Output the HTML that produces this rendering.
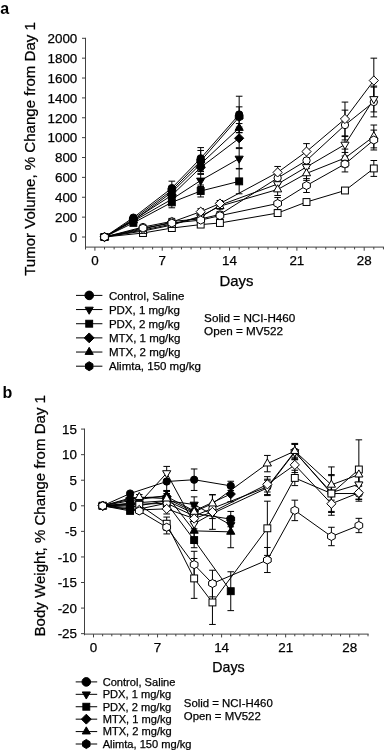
<!DOCTYPE html>
<html><head><meta charset="utf-8"><style>
html,body{margin:0;padding:0;background:#fff;width:385px;height:750px;overflow:hidden}
svg{display:block;will-change:transform}
text{font-family:"Liberation Sans", sans-serif}
</style></head><body>
<svg width="385" height="750" viewBox="0 0 385 750">
<g font-family='"Liberation Sans", sans-serif' fill="#000">
<text x="0.20" y="14.20" font-size="16" text-anchor="start" font-weight="700">a</text>
<text x="35.20" y="149.00" font-size="15.05" text-anchor="middle" font-weight="400" stroke="#000" stroke-width="0.25" transform="rotate(-90 35.20 149.00)">Tumor Volume, % Change from Day 1</text>
<line x1="85.50" y1="37.80" x2="85.50" y2="249.50" stroke="#404040" stroke-width="1"/>
<line x1="82.00" y1="237.00" x2="85.50" y2="237.00" stroke="#404040" stroke-width="1"/>
<text x="77.30" y="241.80" font-size="13.4" text-anchor="end" font-weight="400" stroke="#000" stroke-width="0.25">0</text>
<line x1="82.00" y1="217.13" x2="85.50" y2="217.13" stroke="#404040" stroke-width="1"/>
<text x="77.30" y="221.93" font-size="13.4" text-anchor="end" font-weight="400" stroke="#000" stroke-width="0.25">200</text>
<line x1="82.00" y1="197.26" x2="85.50" y2="197.26" stroke="#404040" stroke-width="1"/>
<text x="77.30" y="202.06" font-size="13.4" text-anchor="end" font-weight="400" stroke="#000" stroke-width="0.25">400</text>
<line x1="82.00" y1="177.39" x2="85.50" y2="177.39" stroke="#404040" stroke-width="1"/>
<text x="77.30" y="182.19" font-size="13.4" text-anchor="end" font-weight="400" stroke="#000" stroke-width="0.25">600</text>
<line x1="82.00" y1="157.52" x2="85.50" y2="157.52" stroke="#404040" stroke-width="1"/>
<text x="77.30" y="162.32" font-size="13.4" text-anchor="end" font-weight="400" stroke="#000" stroke-width="0.25">800</text>
<line x1="82.00" y1="137.65" x2="85.50" y2="137.65" stroke="#404040" stroke-width="1"/>
<text x="77.30" y="142.45" font-size="13.4" text-anchor="end" font-weight="400" stroke="#000" stroke-width="0.25">1000</text>
<line x1="82.00" y1="117.78" x2="85.50" y2="117.78" stroke="#404040" stroke-width="1"/>
<text x="77.30" y="122.58" font-size="13.4" text-anchor="end" font-weight="400" stroke="#000" stroke-width="0.25">1200</text>
<line x1="82.00" y1="97.91" x2="85.50" y2="97.91" stroke="#404040" stroke-width="1"/>
<text x="77.30" y="102.71" font-size="13.4" text-anchor="end" font-weight="400" stroke="#000" stroke-width="0.25">1400</text>
<line x1="82.00" y1="78.04" x2="85.50" y2="78.04" stroke="#404040" stroke-width="1"/>
<text x="77.30" y="82.84" font-size="13.4" text-anchor="end" font-weight="400" stroke="#000" stroke-width="0.25">1600</text>
<line x1="82.00" y1="58.17" x2="85.50" y2="58.17" stroke="#404040" stroke-width="1"/>
<text x="77.30" y="62.97" font-size="13.4" text-anchor="end" font-weight="400" stroke="#000" stroke-width="0.25">1800</text>
<line x1="82.00" y1="38.30" x2="85.50" y2="38.30" stroke="#404040" stroke-width="1"/>
<text x="77.30" y="43.10" font-size="13.4" text-anchor="end" font-weight="400" stroke="#000" stroke-width="0.25">2000</text>
<line x1="85.00" y1="247.10" x2="383.90" y2="247.10" stroke="#404040" stroke-width="1"/>
<line x1="94.90" y1="247.10" x2="94.90" y2="250.70" stroke="#404040" stroke-width="1"/>
<line x1="104.52" y1="247.10" x2="104.52" y2="249.40" stroke="#404040" stroke-width="1"/>
<line x1="114.14" y1="247.10" x2="114.14" y2="249.40" stroke="#404040" stroke-width="1"/>
<line x1="123.75" y1="247.10" x2="123.75" y2="249.40" stroke="#404040" stroke-width="1"/>
<line x1="133.37" y1="247.10" x2="133.37" y2="249.40" stroke="#404040" stroke-width="1"/>
<line x1="142.99" y1="247.10" x2="142.99" y2="249.40" stroke="#404040" stroke-width="1"/>
<line x1="152.61" y1="247.10" x2="152.61" y2="249.40" stroke="#404040" stroke-width="1"/>
<line x1="162.23" y1="247.10" x2="162.23" y2="250.70" stroke="#404040" stroke-width="1"/>
<line x1="171.84" y1="247.10" x2="171.84" y2="249.40" stroke="#404040" stroke-width="1"/>
<line x1="181.46" y1="247.10" x2="181.46" y2="249.40" stroke="#404040" stroke-width="1"/>
<line x1="191.08" y1="247.10" x2="191.08" y2="249.40" stroke="#404040" stroke-width="1"/>
<line x1="200.70" y1="247.10" x2="200.70" y2="249.40" stroke="#404040" stroke-width="1"/>
<line x1="210.32" y1="247.10" x2="210.32" y2="249.40" stroke="#404040" stroke-width="1"/>
<line x1="219.93" y1="247.10" x2="219.93" y2="249.40" stroke="#404040" stroke-width="1"/>
<line x1="229.55" y1="247.10" x2="229.55" y2="250.70" stroke="#404040" stroke-width="1"/>
<line x1="239.17" y1="247.10" x2="239.17" y2="249.40" stroke="#404040" stroke-width="1"/>
<line x1="248.79" y1="247.10" x2="248.79" y2="249.40" stroke="#404040" stroke-width="1"/>
<line x1="258.41" y1="247.10" x2="258.41" y2="249.40" stroke="#404040" stroke-width="1"/>
<line x1="268.02" y1="247.10" x2="268.02" y2="249.40" stroke="#404040" stroke-width="1"/>
<line x1="277.64" y1="247.10" x2="277.64" y2="249.40" stroke="#404040" stroke-width="1"/>
<line x1="287.26" y1="247.10" x2="287.26" y2="249.40" stroke="#404040" stroke-width="1"/>
<line x1="296.88" y1="247.10" x2="296.88" y2="250.70" stroke="#404040" stroke-width="1"/>
<line x1="306.50" y1="247.10" x2="306.50" y2="249.40" stroke="#404040" stroke-width="1"/>
<line x1="316.11" y1="247.10" x2="316.11" y2="249.40" stroke="#404040" stroke-width="1"/>
<line x1="325.73" y1="247.10" x2="325.73" y2="249.40" stroke="#404040" stroke-width="1"/>
<line x1="335.35" y1="247.10" x2="335.35" y2="249.40" stroke="#404040" stroke-width="1"/>
<line x1="344.97" y1="247.10" x2="344.97" y2="249.40" stroke="#404040" stroke-width="1"/>
<line x1="354.59" y1="247.10" x2="354.59" y2="249.40" stroke="#404040" stroke-width="1"/>
<line x1="364.20" y1="247.10" x2="364.20" y2="250.70" stroke="#404040" stroke-width="1"/>
<line x1="373.82" y1="247.10" x2="373.82" y2="249.40" stroke="#404040" stroke-width="1"/>
<line x1="383.44" y1="247.10" x2="383.44" y2="249.40" stroke="#404040" stroke-width="1"/>
<text x="94.90" y="265.20" font-size="13.4" text-anchor="middle" font-weight="400" stroke="#000" stroke-width="0.25">0</text>
<text x="162.23" y="265.20" font-size="13.4" text-anchor="middle" font-weight="400" stroke="#000" stroke-width="0.25">7</text>
<text x="229.55" y="265.20" font-size="13.4" text-anchor="middle" font-weight="400" stroke="#000" stroke-width="0.25">14</text>
<text x="296.88" y="265.20" font-size="13.4" text-anchor="middle" font-weight="400" stroke="#000" stroke-width="0.25">21</text>
<text x="364.20" y="265.20" font-size="13.4" text-anchor="middle" font-weight="400" stroke="#000" stroke-width="0.25">28</text>
<text x="219.55" y="285.80" font-size="14.9" text-anchor="start" font-weight="400" stroke="#000" stroke-width="0.25">Days</text>
<line x1="133.37" y1="216.14" x2="133.37" y2="219.12" stroke="#000" stroke-width="1"/>
<line x1="130.07" y1="216.14" x2="136.67" y2="216.14" stroke="#000" stroke-width="1"/>
<line x1="130.07" y1="219.12" x2="136.67" y2="219.12" stroke="#000" stroke-width="1"/>
<line x1="171.84" y1="181.17" x2="171.84" y2="195.07" stroke="#000" stroke-width="1"/>
<line x1="168.54" y1="181.17" x2="175.14" y2="181.17" stroke="#000" stroke-width="1"/>
<line x1="168.54" y1="195.07" x2="175.14" y2="195.07" stroke="#000" stroke-width="1"/>
<line x1="200.70" y1="147.59" x2="200.70" y2="169.04" stroke="#000" stroke-width="1"/>
<line x1="197.40" y1="147.59" x2="204.00" y2="147.59" stroke="#000" stroke-width="1"/>
<line x1="197.40" y1="169.04" x2="204.00" y2="169.04" stroke="#000" stroke-width="1"/>
<line x1="239.17" y1="96.22" x2="239.17" y2="132.78" stroke="#000" stroke-width="1"/>
<line x1="235.87" y1="96.22" x2="242.47" y2="96.22" stroke="#000" stroke-width="1"/>
<line x1="235.87" y1="132.78" x2="242.47" y2="132.78" stroke="#000" stroke-width="1"/>
<polyline points="104.52,237.00 133.37,217.63 171.84,188.12 200.70,158.31 239.17,114.50" fill="none" stroke="#000" stroke-width="1"/>
<line x1="133.37" y1="219.61" x2="133.37" y2="222.59" stroke="#000" stroke-width="1"/>
<line x1="130.07" y1="219.61" x2="136.67" y2="219.61" stroke="#000" stroke-width="1"/>
<line x1="130.07" y1="222.59" x2="136.67" y2="222.59" stroke="#000" stroke-width="1"/>
<line x1="171.84" y1="195.27" x2="171.84" y2="203.22" stroke="#000" stroke-width="1"/>
<line x1="168.54" y1="195.27" x2="175.14" y2="195.27" stroke="#000" stroke-width="1"/>
<line x1="168.54" y1="203.22" x2="175.14" y2="203.22" stroke="#000" stroke-width="1"/>
<line x1="200.70" y1="174.41" x2="200.70" y2="186.53" stroke="#000" stroke-width="1"/>
<line x1="197.40" y1="174.41" x2="204.00" y2="174.41" stroke="#000" stroke-width="1"/>
<line x1="197.40" y1="186.53" x2="204.00" y2="186.53" stroke="#000" stroke-width="1"/>
<line x1="239.17" y1="148.58" x2="239.17" y2="168.45" stroke="#000" stroke-width="1"/>
<line x1="235.87" y1="148.58" x2="242.47" y2="148.58" stroke="#000" stroke-width="1"/>
<line x1="235.87" y1="168.45" x2="242.47" y2="168.45" stroke="#000" stroke-width="1"/>
<polyline points="104.52,237.00 133.37,221.10 171.84,199.25 200.70,180.47 239.17,158.51" fill="none" stroke="#000" stroke-width="1"/>
<line x1="133.37" y1="221.40" x2="133.37" y2="224.38" stroke="#000" stroke-width="1"/>
<line x1="130.07" y1="221.40" x2="136.67" y2="221.40" stroke="#000" stroke-width="1"/>
<line x1="130.07" y1="224.38" x2="136.67" y2="224.38" stroke="#000" stroke-width="1"/>
<line x1="171.84" y1="196.86" x2="171.84" y2="207.79" stroke="#000" stroke-width="1"/>
<line x1="168.54" y1="196.86" x2="175.14" y2="196.86" stroke="#000" stroke-width="1"/>
<line x1="168.54" y1="207.79" x2="175.14" y2="207.79" stroke="#000" stroke-width="1"/>
<line x1="200.70" y1="185.04" x2="200.70" y2="196.96" stroke="#000" stroke-width="1"/>
<line x1="197.40" y1="185.04" x2="204.00" y2="185.04" stroke="#000" stroke-width="1"/>
<line x1="197.40" y1="196.96" x2="204.00" y2="196.96" stroke="#000" stroke-width="1"/>
<line x1="239.17" y1="168.95" x2="239.17" y2="193.78" stroke="#000" stroke-width="1"/>
<line x1="235.87" y1="168.95" x2="242.47" y2="168.95" stroke="#000" stroke-width="1"/>
<line x1="235.87" y1="193.78" x2="242.47" y2="193.78" stroke="#000" stroke-width="1"/>
<polyline points="104.52,237.00 133.37,222.89 171.84,202.33 200.70,191.00 239.17,181.36" fill="none" stroke="#000" stroke-width="1"/>
<line x1="133.37" y1="218.62" x2="133.37" y2="221.60" stroke="#000" stroke-width="1"/>
<line x1="130.07" y1="218.62" x2="136.67" y2="218.62" stroke="#000" stroke-width="1"/>
<line x1="130.07" y1="221.60" x2="136.67" y2="221.60" stroke="#000" stroke-width="1"/>
<line x1="171.84" y1="191.30" x2="171.84" y2="199.25" stroke="#000" stroke-width="1"/>
<line x1="168.54" y1="191.30" x2="175.14" y2="191.30" stroke="#000" stroke-width="1"/>
<line x1="168.54" y1="199.25" x2="175.14" y2="199.25" stroke="#000" stroke-width="1"/>
<line x1="200.70" y1="161.49" x2="200.70" y2="173.42" stroke="#000" stroke-width="1"/>
<line x1="197.40" y1="161.49" x2="204.00" y2="161.49" stroke="#000" stroke-width="1"/>
<line x1="197.40" y1="173.42" x2="204.00" y2="173.42" stroke="#000" stroke-width="1"/>
<line x1="239.17" y1="128.81" x2="239.17" y2="147.68" stroke="#000" stroke-width="1"/>
<line x1="235.87" y1="128.81" x2="242.47" y2="128.81" stroke="#000" stroke-width="1"/>
<line x1="235.87" y1="147.68" x2="242.47" y2="147.68" stroke="#000" stroke-width="1"/>
<polyline points="104.52,237.00 133.37,220.11 171.84,195.27 200.70,167.45 239.17,138.25" fill="none" stroke="#000" stroke-width="1"/>
<line x1="133.37" y1="219.12" x2="133.37" y2="222.10" stroke="#000" stroke-width="1"/>
<line x1="130.07" y1="219.12" x2="136.67" y2="219.12" stroke="#000" stroke-width="1"/>
<line x1="130.07" y1="222.10" x2="136.67" y2="222.10" stroke="#000" stroke-width="1"/>
<line x1="171.84" y1="188.32" x2="171.84" y2="196.27" stroke="#000" stroke-width="1"/>
<line x1="168.54" y1="188.32" x2="175.14" y2="188.32" stroke="#000" stroke-width="1"/>
<line x1="168.54" y1="196.27" x2="175.14" y2="196.27" stroke="#000" stroke-width="1"/>
<line x1="200.70" y1="158.02" x2="200.70" y2="169.94" stroke="#000" stroke-width="1"/>
<line x1="197.40" y1="158.02" x2="204.00" y2="158.02" stroke="#000" stroke-width="1"/>
<line x1="197.40" y1="169.94" x2="204.00" y2="169.94" stroke="#000" stroke-width="1"/>
<line x1="239.17" y1="123.54" x2="239.17" y2="132.48" stroke="#000" stroke-width="1"/>
<line x1="235.87" y1="123.54" x2="242.47" y2="123.54" stroke="#000" stroke-width="1"/>
<line x1="235.87" y1="132.48" x2="242.47" y2="132.48" stroke="#000" stroke-width="1"/>
<polyline points="104.52,237.00 133.37,220.61 171.84,192.29 200.70,163.98 239.17,128.01" fill="none" stroke="#000" stroke-width="1"/>
<line x1="133.37" y1="217.63" x2="133.37" y2="220.61" stroke="#000" stroke-width="1"/>
<line x1="130.07" y1="217.63" x2="136.67" y2="217.63" stroke="#000" stroke-width="1"/>
<line x1="130.07" y1="220.61" x2="136.67" y2="220.61" stroke="#000" stroke-width="1"/>
<line x1="171.84" y1="186.33" x2="171.84" y2="194.28" stroke="#000" stroke-width="1"/>
<line x1="168.54" y1="186.33" x2="175.14" y2="186.33" stroke="#000" stroke-width="1"/>
<line x1="168.54" y1="194.28" x2="175.14" y2="194.28" stroke="#000" stroke-width="1"/>
<line x1="200.70" y1="150.47" x2="200.70" y2="171.53" stroke="#000" stroke-width="1"/>
<line x1="197.40" y1="150.47" x2="204.00" y2="150.47" stroke="#000" stroke-width="1"/>
<line x1="197.40" y1="171.53" x2="204.00" y2="171.53" stroke="#000" stroke-width="1"/>
<line x1="239.17" y1="106.85" x2="239.17" y2="127.12" stroke="#000" stroke-width="1"/>
<line x1="235.87" y1="106.85" x2="242.47" y2="106.85" stroke="#000" stroke-width="1"/>
<line x1="235.87" y1="127.12" x2="242.47" y2="127.12" stroke="#000" stroke-width="1"/>
<polyline points="104.52,237.00 133.37,219.12 171.84,190.31 200.70,161.00 239.17,116.99" fill="none" stroke="#000" stroke-width="1"/>
<line x1="142.99" y1="225.08" x2="142.99" y2="229.05" stroke="#000" stroke-width="1"/>
<line x1="139.69" y1="225.08" x2="146.29" y2="225.08" stroke="#000" stroke-width="1"/>
<line x1="139.69" y1="229.05" x2="146.29" y2="229.05" stroke="#000" stroke-width="1"/>
<line x1="171.84" y1="218.42" x2="171.84" y2="224.38" stroke="#000" stroke-width="1"/>
<line x1="168.54" y1="218.42" x2="175.14" y2="218.42" stroke="#000" stroke-width="1"/>
<line x1="168.54" y1="224.38" x2="175.14" y2="224.38" stroke="#000" stroke-width="1"/>
<line x1="200.70" y1="215.94" x2="200.70" y2="221.90" stroke="#000" stroke-width="1"/>
<line x1="197.40" y1="215.94" x2="204.00" y2="215.94" stroke="#000" stroke-width="1"/>
<line x1="197.40" y1="221.90" x2="204.00" y2="221.90" stroke="#000" stroke-width="1"/>
<line x1="219.93" y1="211.47" x2="219.93" y2="217.43" stroke="#000" stroke-width="1"/>
<line x1="216.63" y1="211.47" x2="223.23" y2="211.47" stroke="#000" stroke-width="1"/>
<line x1="216.63" y1="217.43" x2="223.23" y2="217.43" stroke="#000" stroke-width="1"/>
<line x1="277.64" y1="172.03" x2="277.64" y2="183.95" stroke="#000" stroke-width="1"/>
<line x1="274.34" y1="172.03" x2="280.94" y2="172.03" stroke="#000" stroke-width="1"/>
<line x1="274.34" y1="183.95" x2="280.94" y2="183.95" stroke="#000" stroke-width="1"/>
<line x1="306.50" y1="152.55" x2="306.50" y2="168.45" stroke="#000" stroke-width="1"/>
<line x1="303.20" y1="152.55" x2="309.80" y2="152.55" stroke="#000" stroke-width="1"/>
<line x1="303.20" y1="168.45" x2="309.80" y2="168.45" stroke="#000" stroke-width="1"/>
<line x1="344.97" y1="110.13" x2="344.97" y2="139.94" stroke="#000" stroke-width="1"/>
<line x1="341.67" y1="110.13" x2="348.27" y2="110.13" stroke="#000" stroke-width="1"/>
<line x1="341.67" y1="139.94" x2="348.27" y2="139.94" stroke="#000" stroke-width="1"/>
<line x1="373.82" y1="87.08" x2="373.82" y2="116.89" stroke="#000" stroke-width="1"/>
<line x1="370.52" y1="87.08" x2="377.12" y2="87.08" stroke="#000" stroke-width="1"/>
<line x1="370.52" y1="116.89" x2="377.12" y2="116.89" stroke="#000" stroke-width="1"/>
<polyline points="104.52,237.00 142.99,227.06 171.84,221.40 200.70,218.92 219.93,214.45 277.64,177.99 306.50,160.50 344.97,125.03 373.82,101.98" fill="none" stroke="#000" stroke-width="1"/>
<line x1="142.99" y1="228.06" x2="142.99" y2="232.03" stroke="#000" stroke-width="1"/>
<line x1="139.69" y1="228.06" x2="146.29" y2="228.06" stroke="#000" stroke-width="1"/>
<line x1="139.69" y1="232.03" x2="146.29" y2="232.03" stroke="#000" stroke-width="1"/>
<line x1="171.84" y1="221.10" x2="171.84" y2="227.06" stroke="#000" stroke-width="1"/>
<line x1="168.54" y1="221.10" x2="175.14" y2="221.10" stroke="#000" stroke-width="1"/>
<line x1="168.54" y1="227.06" x2="175.14" y2="227.06" stroke="#000" stroke-width="1"/>
<line x1="200.70" y1="214.15" x2="200.70" y2="220.11" stroke="#000" stroke-width="1"/>
<line x1="197.40" y1="214.15" x2="204.00" y2="214.15" stroke="#000" stroke-width="1"/>
<line x1="197.40" y1="220.11" x2="204.00" y2="220.11" stroke="#000" stroke-width="1"/>
<line x1="219.93" y1="202.23" x2="219.93" y2="208.19" stroke="#000" stroke-width="1"/>
<line x1="216.63" y1="202.23" x2="223.23" y2="202.23" stroke="#000" stroke-width="1"/>
<line x1="216.63" y1="208.19" x2="223.23" y2="208.19" stroke="#000" stroke-width="1"/>
<line x1="277.64" y1="178.09" x2="277.64" y2="190.01" stroke="#000" stroke-width="1"/>
<line x1="274.34" y1="178.09" x2="280.94" y2="178.09" stroke="#000" stroke-width="1"/>
<line x1="274.34" y1="190.01" x2="280.94" y2="190.01" stroke="#000" stroke-width="1"/>
<line x1="306.50" y1="160.00" x2="306.50" y2="173.91" stroke="#000" stroke-width="1"/>
<line x1="303.20" y1="160.00" x2="309.80" y2="160.00" stroke="#000" stroke-width="1"/>
<line x1="303.20" y1="173.91" x2="309.80" y2="173.91" stroke="#000" stroke-width="1"/>
<line x1="344.97" y1="136.56" x2="344.97" y2="152.45" stroke="#000" stroke-width="1"/>
<line x1="341.67" y1="136.56" x2="348.27" y2="136.56" stroke="#000" stroke-width="1"/>
<line x1="341.67" y1="152.45" x2="348.27" y2="152.45" stroke="#000" stroke-width="1"/>
<line x1="373.82" y1="86.09" x2="373.82" y2="111.92" stroke="#000" stroke-width="1"/>
<line x1="370.52" y1="86.09" x2="377.12" y2="86.09" stroke="#000" stroke-width="1"/>
<line x1="370.52" y1="111.92" x2="377.12" y2="111.92" stroke="#000" stroke-width="1"/>
<polyline points="104.52,237.00 142.99,230.05 171.84,224.08 200.70,217.13 219.93,205.21 277.64,184.05 306.50,166.96 344.97,144.51 373.82,99.00" fill="none" stroke="#000" stroke-width="1"/>
<line x1="142.99" y1="232.03" x2="142.99" y2="234.02" stroke="#000" stroke-width="1"/>
<line x1="139.69" y1="232.03" x2="146.29" y2="232.03" stroke="#000" stroke-width="1"/>
<line x1="139.69" y1="234.02" x2="146.29" y2="234.02" stroke="#000" stroke-width="1"/>
<line x1="171.84" y1="226.07" x2="171.84" y2="230.05" stroke="#000" stroke-width="1"/>
<line x1="168.54" y1="226.07" x2="175.14" y2="226.07" stroke="#000" stroke-width="1"/>
<line x1="168.54" y1="230.05" x2="175.14" y2="230.05" stroke="#000" stroke-width="1"/>
<line x1="200.70" y1="222.59" x2="200.70" y2="226.57" stroke="#000" stroke-width="1"/>
<line x1="197.40" y1="222.59" x2="204.00" y2="222.59" stroke="#000" stroke-width="1"/>
<line x1="197.40" y1="226.57" x2="204.00" y2="226.57" stroke="#000" stroke-width="1"/>
<line x1="219.93" y1="221.00" x2="219.93" y2="224.98" stroke="#000" stroke-width="1"/>
<line x1="216.63" y1="221.00" x2="223.23" y2="221.00" stroke="#000" stroke-width="1"/>
<line x1="216.63" y1="224.98" x2="223.23" y2="224.98" stroke="#000" stroke-width="1"/>
<line x1="277.64" y1="210.08" x2="277.64" y2="216.04" stroke="#000" stroke-width="1"/>
<line x1="274.34" y1="210.08" x2="280.94" y2="210.08" stroke="#000" stroke-width="1"/>
<line x1="274.34" y1="216.04" x2="280.94" y2="216.04" stroke="#000" stroke-width="1"/>
<line x1="306.50" y1="199.05" x2="306.50" y2="205.01" stroke="#000" stroke-width="1"/>
<line x1="303.20" y1="199.05" x2="309.80" y2="199.05" stroke="#000" stroke-width="1"/>
<line x1="303.20" y1="205.01" x2="309.80" y2="205.01" stroke="#000" stroke-width="1"/>
<line x1="344.97" y1="187.52" x2="344.97" y2="193.48" stroke="#000" stroke-width="1"/>
<line x1="341.67" y1="187.52" x2="348.27" y2="187.52" stroke="#000" stroke-width="1"/>
<line x1="341.67" y1="193.48" x2="348.27" y2="193.48" stroke="#000" stroke-width="1"/>
<line x1="373.82" y1="160.50" x2="373.82" y2="176.40" stroke="#000" stroke-width="1"/>
<line x1="370.52" y1="160.50" x2="377.12" y2="160.50" stroke="#000" stroke-width="1"/>
<line x1="370.52" y1="176.40" x2="377.12" y2="176.40" stroke="#000" stroke-width="1"/>
<polyline points="104.52,237.00 142.99,233.03 171.84,228.06 200.70,224.58 219.93,222.99 277.64,213.06 306.50,202.03 344.97,190.50 373.82,168.45" fill="none" stroke="#000" stroke-width="1"/>
<line x1="142.99" y1="227.06" x2="142.99" y2="231.04" stroke="#000" stroke-width="1"/>
<line x1="139.69" y1="227.06" x2="146.29" y2="227.06" stroke="#000" stroke-width="1"/>
<line x1="139.69" y1="231.04" x2="146.29" y2="231.04" stroke="#000" stroke-width="1"/>
<line x1="171.84" y1="219.12" x2="171.84" y2="225.08" stroke="#000" stroke-width="1"/>
<line x1="168.54" y1="219.12" x2="175.14" y2="219.12" stroke="#000" stroke-width="1"/>
<line x1="168.54" y1="225.08" x2="175.14" y2="225.08" stroke="#000" stroke-width="1"/>
<line x1="200.70" y1="208.69" x2="200.70" y2="214.65" stroke="#000" stroke-width="1"/>
<line x1="197.40" y1="208.69" x2="204.00" y2="208.69" stroke="#000" stroke-width="1"/>
<line x1="197.40" y1="214.65" x2="204.00" y2="214.65" stroke="#000" stroke-width="1"/>
<line x1="219.93" y1="200.54" x2="219.93" y2="206.50" stroke="#000" stroke-width="1"/>
<line x1="216.63" y1="200.54" x2="223.23" y2="200.54" stroke="#000" stroke-width="1"/>
<line x1="216.63" y1="206.50" x2="223.23" y2="206.50" stroke="#000" stroke-width="1"/>
<line x1="277.64" y1="166.46" x2="277.64" y2="178.38" stroke="#000" stroke-width="1"/>
<line x1="274.34" y1="166.46" x2="280.94" y2="166.46" stroke="#000" stroke-width="1"/>
<line x1="274.34" y1="178.38" x2="280.94" y2="178.38" stroke="#000" stroke-width="1"/>
<line x1="306.50" y1="143.61" x2="306.50" y2="159.51" stroke="#000" stroke-width="1"/>
<line x1="303.20" y1="143.61" x2="309.80" y2="143.61" stroke="#000" stroke-width="1"/>
<line x1="303.20" y1="159.51" x2="309.80" y2="159.51" stroke="#000" stroke-width="1"/>
<line x1="344.97" y1="102.08" x2="344.97" y2="135.86" stroke="#000" stroke-width="1"/>
<line x1="341.67" y1="102.08" x2="348.27" y2="102.08" stroke="#000" stroke-width="1"/>
<line x1="341.67" y1="135.86" x2="348.27" y2="135.86" stroke="#000" stroke-width="1"/>
<line x1="373.82" y1="58.17" x2="373.82" y2="102.88" stroke="#000" stroke-width="1"/>
<line x1="370.52" y1="58.17" x2="377.12" y2="58.17" stroke="#000" stroke-width="1"/>
<line x1="370.52" y1="102.88" x2="377.12" y2="102.88" stroke="#000" stroke-width="1"/>
<polyline points="104.52,237.00 142.99,229.05 171.84,222.10 200.70,211.67 219.93,203.52 277.64,172.42 306.50,151.56 344.97,118.97 373.82,80.52" fill="none" stroke="#000" stroke-width="1"/>
<line x1="142.99" y1="229.05" x2="142.99" y2="233.03" stroke="#000" stroke-width="1"/>
<line x1="139.69" y1="229.05" x2="146.29" y2="229.05" stroke="#000" stroke-width="1"/>
<line x1="139.69" y1="233.03" x2="146.29" y2="233.03" stroke="#000" stroke-width="1"/>
<line x1="171.84" y1="222.10" x2="171.84" y2="228.06" stroke="#000" stroke-width="1"/>
<line x1="168.54" y1="222.10" x2="175.14" y2="222.10" stroke="#000" stroke-width="1"/>
<line x1="168.54" y1="228.06" x2="175.14" y2="228.06" stroke="#000" stroke-width="1"/>
<line x1="200.70" y1="213.16" x2="200.70" y2="219.12" stroke="#000" stroke-width="1"/>
<line x1="197.40" y1="213.16" x2="204.00" y2="213.16" stroke="#000" stroke-width="1"/>
<line x1="197.40" y1="219.12" x2="204.00" y2="219.12" stroke="#000" stroke-width="1"/>
<line x1="219.93" y1="203.22" x2="219.93" y2="209.18" stroke="#000" stroke-width="1"/>
<line x1="216.63" y1="203.22" x2="223.23" y2="203.22" stroke="#000" stroke-width="1"/>
<line x1="216.63" y1="209.18" x2="223.23" y2="209.18" stroke="#000" stroke-width="1"/>
<line x1="277.64" y1="183.55" x2="277.64" y2="195.47" stroke="#000" stroke-width="1"/>
<line x1="274.34" y1="183.55" x2="280.94" y2="183.55" stroke="#000" stroke-width="1"/>
<line x1="274.34" y1="195.47" x2="280.94" y2="195.47" stroke="#000" stroke-width="1"/>
<line x1="306.50" y1="166.46" x2="306.50" y2="180.37" stroke="#000" stroke-width="1"/>
<line x1="303.20" y1="166.46" x2="309.80" y2="166.46" stroke="#000" stroke-width="1"/>
<line x1="303.20" y1="180.37" x2="309.80" y2="180.37" stroke="#000" stroke-width="1"/>
<line x1="344.97" y1="149.08" x2="344.97" y2="166.96" stroke="#000" stroke-width="1"/>
<line x1="341.67" y1="149.08" x2="348.27" y2="149.08" stroke="#000" stroke-width="1"/>
<line x1="341.67" y1="166.96" x2="348.27" y2="166.96" stroke="#000" stroke-width="1"/>
<line x1="373.82" y1="125.03" x2="373.82" y2="147.88" stroke="#000" stroke-width="1"/>
<line x1="370.52" y1="125.03" x2="377.12" y2="125.03" stroke="#000" stroke-width="1"/>
<line x1="370.52" y1="147.88" x2="377.12" y2="147.88" stroke="#000" stroke-width="1"/>
<polyline points="104.52,237.00 142.99,231.04 171.84,225.08 200.70,216.14 219.93,206.20 277.64,189.51 306.50,173.42 344.97,158.02 373.82,136.46" fill="none" stroke="#000" stroke-width="1"/>
<line x1="142.99" y1="226.07" x2="142.99" y2="230.05" stroke="#000" stroke-width="1"/>
<line x1="139.69" y1="226.07" x2="146.29" y2="226.07" stroke="#000" stroke-width="1"/>
<line x1="139.69" y1="230.05" x2="146.29" y2="230.05" stroke="#000" stroke-width="1"/>
<line x1="171.84" y1="220.11" x2="171.84" y2="226.07" stroke="#000" stroke-width="1"/>
<line x1="168.54" y1="220.11" x2="175.14" y2="220.11" stroke="#000" stroke-width="1"/>
<line x1="168.54" y1="226.07" x2="175.14" y2="226.07" stroke="#000" stroke-width="1"/>
<line x1="200.70" y1="217.13" x2="200.70" y2="223.09" stroke="#000" stroke-width="1"/>
<line x1="197.40" y1="217.13" x2="204.00" y2="217.13" stroke="#000" stroke-width="1"/>
<line x1="197.40" y1="223.09" x2="204.00" y2="223.09" stroke="#000" stroke-width="1"/>
<line x1="219.93" y1="212.66" x2="219.93" y2="218.62" stroke="#000" stroke-width="1"/>
<line x1="216.63" y1="212.66" x2="223.23" y2="212.66" stroke="#000" stroke-width="1"/>
<line x1="216.63" y1="218.62" x2="223.23" y2="218.62" stroke="#000" stroke-width="1"/>
<line x1="277.64" y1="197.56" x2="277.64" y2="209.48" stroke="#000" stroke-width="1"/>
<line x1="274.34" y1="197.56" x2="280.94" y2="197.56" stroke="#000" stroke-width="1"/>
<line x1="274.34" y1="209.48" x2="280.94" y2="209.48" stroke="#000" stroke-width="1"/>
<line x1="306.50" y1="178.58" x2="306.50" y2="192.49" stroke="#000" stroke-width="1"/>
<line x1="303.20" y1="178.58" x2="309.80" y2="178.58" stroke="#000" stroke-width="1"/>
<line x1="303.20" y1="192.49" x2="309.80" y2="192.49" stroke="#000" stroke-width="1"/>
<line x1="344.97" y1="156.03" x2="344.97" y2="171.93" stroke="#000" stroke-width="1"/>
<line x1="341.67" y1="156.03" x2="348.27" y2="156.03" stroke="#000" stroke-width="1"/>
<line x1="341.67" y1="171.93" x2="348.27" y2="171.93" stroke="#000" stroke-width="1"/>
<line x1="373.82" y1="130.10" x2="373.82" y2="149.97" stroke="#000" stroke-width="1"/>
<line x1="370.52" y1="130.10" x2="377.12" y2="130.10" stroke="#000" stroke-width="1"/>
<line x1="370.52" y1="149.97" x2="377.12" y2="149.97" stroke="#000" stroke-width="1"/>
<polyline points="104.52,237.00 142.99,228.06 171.84,223.09 200.70,220.11 219.93,215.64 277.64,203.52 306.50,185.54 344.97,163.98 373.82,140.03" fill="none" stroke="#000" stroke-width="1"/>
<circle cx="104.52" cy="237.00" r="3.65" fill="#000" stroke="#000" stroke-width="1.0"/>
<circle cx="133.37" cy="217.63" r="3.65" fill="#000" stroke="#000" stroke-width="1.0"/>
<circle cx="171.84" cy="188.12" r="3.65" fill="#000" stroke="#000" stroke-width="1.0"/>
<circle cx="200.70" cy="158.31" r="3.65" fill="#000" stroke="#000" stroke-width="1.0"/>
<circle cx="239.17" cy="114.50" r="3.65" fill="#000" stroke="#000" stroke-width="1.0"/>
<polygon points="104.52,241.72 108.60,234.64 100.43,234.64" fill="#000" stroke="#000" stroke-width="1.0"/>
<polygon points="133.37,225.82 137.46,218.75 129.29,218.75" fill="#000" stroke="#000" stroke-width="1.0"/>
<polygon points="171.84,203.96 175.93,196.89 167.76,196.89" fill="#000" stroke="#000" stroke-width="1.0"/>
<polygon points="200.70,185.19 204.78,178.11 196.61,178.11" fill="#000" stroke="#000" stroke-width="1.0"/>
<polygon points="239.17,163.23 243.26,156.16 235.09,156.16" fill="#000" stroke="#000" stroke-width="1.0"/>
<rect x="101.08" y="233.56" width="6.88" height="6.88" fill="#000" stroke="#000" stroke-width="1.0"/>
<rect x="129.93" y="219.45" width="6.88" height="6.88" fill="#000" stroke="#000" stroke-width="1.0"/>
<rect x="168.40" y="198.89" width="6.88" height="6.88" fill="#000" stroke="#000" stroke-width="1.0"/>
<rect x="197.26" y="187.56" width="6.88" height="6.88" fill="#000" stroke="#000" stroke-width="1.0"/>
<rect x="235.73" y="177.92" width="6.88" height="6.88" fill="#000" stroke="#000" stroke-width="1.0"/>
<polygon points="104.52,232.28 108.60,239.36 100.43,239.36" fill="#000" stroke="#000" stroke-width="1.0"/>
<polygon points="133.37,215.89 137.46,222.97 129.29,222.97" fill="#000" stroke="#000" stroke-width="1.0"/>
<polygon points="171.84,187.58 175.93,194.65 167.76,194.65" fill="#000" stroke="#000" stroke-width="1.0"/>
<polygon points="200.70,159.26 204.78,166.34 196.61,166.34" fill="#000" stroke="#000" stroke-width="1.0"/>
<polygon points="239.17,123.30 243.26,130.37 235.09,130.37" fill="#000" stroke="#000" stroke-width="1.0"/>
<polygon points="104.52,232.40 109.12,237.00 104.52,241.60 99.92,237.00" fill="#000" stroke="#000" stroke-width="1.0"/>
<polygon points="133.37,215.51 137.97,220.11 133.37,224.71 128.77,220.11" fill="#000" stroke="#000" stroke-width="1.0"/>
<polygon points="171.84,190.67 176.44,195.27 171.84,199.87 167.24,195.27" fill="#000" stroke="#000" stroke-width="1.0"/>
<polygon points="200.70,162.85 205.30,167.45 200.70,172.05 196.10,167.45" fill="#000" stroke="#000" stroke-width="1.0"/>
<polygon points="239.17,133.65 243.77,138.25 239.17,142.85 234.57,138.25" fill="#000" stroke="#000" stroke-width="1.0"/>
<polygon points="104.52,241.00 100.67,239.00 100.67,235.00 104.52,233.00 108.37,235.00 108.37,239.00" fill="#000" stroke="#000" stroke-width="1.0"/>
<polygon points="133.37,223.12 129.52,221.12 129.52,217.12 133.37,215.12 137.22,217.12 137.22,221.12" fill="#000" stroke="#000" stroke-width="1.0"/>
<polygon points="171.84,194.31 167.99,192.31 167.99,188.31 171.84,186.31 175.69,188.31 175.69,192.31" fill="#000" stroke="#000" stroke-width="1.0"/>
<polygon points="200.70,165.00 196.85,163.00 196.85,159.00 200.70,157.00 204.55,159.00 204.55,163.00" fill="#000" stroke="#000" stroke-width="1.0"/>
<polygon points="239.17,120.99 235.32,118.99 235.32,114.99 239.17,112.99 243.02,114.99 243.02,118.99" fill="#000" stroke="#000" stroke-width="1.0"/>
<circle cx="104.52" cy="237.00" r="3.65" fill="#fff" stroke="#000" stroke-width="1.0"/>
<circle cx="142.99" cy="227.06" r="3.65" fill="#fff" stroke="#000" stroke-width="1.0"/>
<circle cx="171.84" cy="221.40" r="3.65" fill="#fff" stroke="#000" stroke-width="1.0"/>
<circle cx="200.70" cy="218.92" r="3.65" fill="#fff" stroke="#000" stroke-width="1.0"/>
<circle cx="219.93" cy="214.45" r="3.65" fill="#fff" stroke="#000" stroke-width="1.0"/>
<circle cx="277.64" cy="177.99" r="3.65" fill="#fff" stroke="#000" stroke-width="1.0"/>
<circle cx="306.50" cy="160.50" r="3.65" fill="#fff" stroke="#000" stroke-width="1.0"/>
<circle cx="344.97" cy="125.03" r="3.65" fill="#fff" stroke="#000" stroke-width="1.0"/>
<circle cx="373.82" cy="101.98" r="3.65" fill="#fff" stroke="#000" stroke-width="1.0"/>
<polygon points="104.52,241.72 108.60,234.64 100.43,234.64" fill="#fff" stroke="#000" stroke-width="1.0"/>
<polygon points="142.99,234.76 147.08,227.69 138.91,227.69" fill="#fff" stroke="#000" stroke-width="1.0"/>
<polygon points="171.84,228.80 175.93,221.73 167.76,221.73" fill="#fff" stroke="#000" stroke-width="1.0"/>
<polygon points="200.70,221.85 204.78,214.77 196.61,214.77" fill="#fff" stroke="#000" stroke-width="1.0"/>
<polygon points="219.93,209.92 224.02,202.85 215.85,202.85" fill="#fff" stroke="#000" stroke-width="1.0"/>
<polygon points="277.64,188.76 281.73,181.69 273.56,181.69" fill="#fff" stroke="#000" stroke-width="1.0"/>
<polygon points="306.50,171.68 310.58,164.60 302.41,164.60" fill="#fff" stroke="#000" stroke-width="1.0"/>
<polygon points="344.97,149.22 349.05,142.15 340.88,142.15" fill="#fff" stroke="#000" stroke-width="1.0"/>
<polygon points="373.82,103.72 377.91,96.64 369.74,96.64" fill="#fff" stroke="#000" stroke-width="1.0"/>
<rect x="101.08" y="233.56" width="6.88" height="6.88" fill="#fff" stroke="#000" stroke-width="1.0"/>
<rect x="139.55" y="229.59" width="6.88" height="6.88" fill="#fff" stroke="#000" stroke-width="1.0"/>
<rect x="168.40" y="224.62" width="6.88" height="6.88" fill="#fff" stroke="#000" stroke-width="1.0"/>
<rect x="197.26" y="221.14" width="6.88" height="6.88" fill="#fff" stroke="#000" stroke-width="1.0"/>
<rect x="216.49" y="219.55" width="6.88" height="6.88" fill="#fff" stroke="#000" stroke-width="1.0"/>
<rect x="274.20" y="209.62" width="6.88" height="6.88" fill="#fff" stroke="#000" stroke-width="1.0"/>
<rect x="303.06" y="198.59" width="6.88" height="6.88" fill="#fff" stroke="#000" stroke-width="1.0"/>
<rect x="341.53" y="187.06" width="6.88" height="6.88" fill="#fff" stroke="#000" stroke-width="1.0"/>
<rect x="370.38" y="165.01" width="6.88" height="6.88" fill="#fff" stroke="#000" stroke-width="1.0"/>
<polygon points="104.52,232.28 108.60,239.36 100.43,239.36" fill="#fff" stroke="#000" stroke-width="1.0"/>
<polygon points="142.99,226.32 147.08,233.40 138.91,233.40" fill="#fff" stroke="#000" stroke-width="1.0"/>
<polygon points="171.84,220.36 175.93,227.44 167.76,227.44" fill="#fff" stroke="#000" stroke-width="1.0"/>
<polygon points="200.70,211.42 204.78,218.49 196.61,218.49" fill="#fff" stroke="#000" stroke-width="1.0"/>
<polygon points="219.93,201.48 224.02,208.56 215.85,208.56" fill="#fff" stroke="#000" stroke-width="1.0"/>
<polygon points="277.64,184.79 281.73,191.87 273.56,191.87" fill="#fff" stroke="#000" stroke-width="1.0"/>
<polygon points="306.50,168.70 310.58,175.77 302.41,175.77" fill="#fff" stroke="#000" stroke-width="1.0"/>
<polygon points="344.97,153.30 349.05,160.38 340.88,160.38" fill="#fff" stroke="#000" stroke-width="1.0"/>
<polygon points="373.82,131.74 377.91,138.82 369.74,138.82" fill="#fff" stroke="#000" stroke-width="1.0"/>
<polygon points="104.52,232.40 109.12,237.00 104.52,241.60 99.92,237.00" fill="#fff" stroke="#000" stroke-width="1.0"/>
<polygon points="142.99,224.45 147.59,229.05 142.99,233.65 138.39,229.05" fill="#fff" stroke="#000" stroke-width="1.0"/>
<polygon points="171.84,217.50 176.44,222.10 171.84,226.70 167.24,222.10" fill="#fff" stroke="#000" stroke-width="1.0"/>
<polygon points="200.70,207.07 205.30,211.67 200.70,216.27 196.10,211.67" fill="#fff" stroke="#000" stroke-width="1.0"/>
<polygon points="219.93,198.92 224.53,203.52 219.93,208.12 215.33,203.52" fill="#fff" stroke="#000" stroke-width="1.0"/>
<polygon points="277.64,167.82 282.24,172.42 277.64,177.02 273.04,172.42" fill="#fff" stroke="#000" stroke-width="1.0"/>
<polygon points="306.50,146.96 311.10,151.56 306.50,156.16 301.90,151.56" fill="#fff" stroke="#000" stroke-width="1.0"/>
<polygon points="344.97,114.37 349.57,118.97 344.97,123.57 340.37,118.97" fill="#fff" stroke="#000" stroke-width="1.0"/>
<polygon points="373.82,75.92 378.42,80.52 373.82,85.12 369.22,80.52" fill="#fff" stroke="#000" stroke-width="1.0"/>
<polygon points="104.52,241.00 100.67,239.00 100.67,235.00 104.52,233.00 108.37,235.00 108.37,239.00" fill="#fff" stroke="#000" stroke-width="1.0"/>
<polygon points="142.99,232.06 139.14,230.06 139.14,226.06 142.99,224.06 146.84,226.06 146.84,230.06" fill="#fff" stroke="#000" stroke-width="1.0"/>
<polygon points="171.84,227.09 167.99,225.09 167.99,221.09 171.84,219.09 175.69,221.09 175.69,225.09" fill="#fff" stroke="#000" stroke-width="1.0"/>
<polygon points="200.70,224.11 196.85,222.11 196.85,218.11 200.70,216.11 204.55,218.11 204.55,222.11" fill="#fff" stroke="#000" stroke-width="1.0"/>
<polygon points="219.93,219.64 216.08,217.64 216.08,213.64 219.93,211.64 223.78,213.64 223.78,217.64" fill="#fff" stroke="#000" stroke-width="1.0"/>
<polygon points="277.64,207.52 273.79,205.52 273.79,201.52 277.64,199.52 281.49,201.52 281.49,205.52" fill="#fff" stroke="#000" stroke-width="1.0"/>
<polygon points="306.50,189.54 302.65,187.54 302.65,183.54 306.50,181.54 310.35,183.54 310.35,187.54" fill="#fff" stroke="#000" stroke-width="1.0"/>
<polygon points="344.97,167.98 341.12,165.98 341.12,161.98 344.97,159.98 348.82,161.98 348.82,165.98" fill="#fff" stroke="#000" stroke-width="1.0"/>
<polygon points="373.82,144.03 369.97,142.03 369.97,138.03 373.82,136.03 377.67,138.03 377.67,142.03" fill="#fff" stroke="#000" stroke-width="1.0"/>
<line x1="76.00" y1="295.40" x2="102.40" y2="295.40" stroke="#000" stroke-width="1"/>
<circle cx="89.20" cy="295.40" r="4.3" fill="#000" stroke="#000" stroke-width="1.0"/>
<text x="108.90" y="299.50" font-size="11.5" text-anchor="start" font-weight="400" stroke="#000" stroke-width="0.25">Control, Saline</text>
<line x1="76.00" y1="309.56" x2="102.40" y2="309.56" stroke="#000" stroke-width="1"/>
<polygon points="89.20,314.28 93.28,307.20 85.12,307.20" fill="#000" stroke="#000" stroke-width="1.0"/>
<text x="108.90" y="313.66" font-size="11.5" text-anchor="start" font-weight="400" stroke="#000" stroke-width="0.25">PDX, 1 mg/kg</text>
<line x1="76.00" y1="323.72" x2="102.40" y2="323.72" stroke="#000" stroke-width="1"/>
<rect x="85.76" y="320.28" width="6.88" height="6.88" fill="#000" stroke="#000" stroke-width="1.0"/>
<text x="108.90" y="327.82" font-size="11.5" text-anchor="start" font-weight="400" stroke="#000" stroke-width="0.25">PDX, 2 mg/kg</text>
<line x1="76.00" y1="337.88" x2="102.40" y2="337.88" stroke="#000" stroke-width="1"/>
<polygon points="89.20,332.94 94.14,337.88 89.20,342.82 84.26,337.88" fill="#000" stroke="#000" stroke-width="1.0"/>
<text x="108.90" y="341.98" font-size="11.5" text-anchor="start" font-weight="400" stroke="#000" stroke-width="0.25">MTX, 1 mg/kg</text>
<line x1="76.00" y1="352.04" x2="102.40" y2="352.04" stroke="#000" stroke-width="1"/>
<polygon points="89.20,347.32 93.28,354.40 85.12,354.40" fill="#000" stroke="#000" stroke-width="1.0"/>
<text x="108.90" y="356.14" font-size="11.5" text-anchor="start" font-weight="400" stroke="#000" stroke-width="0.25">MTX, 2 mg/kg</text>
<line x1="76.00" y1="366.20" x2="102.40" y2="366.20" stroke="#000" stroke-width="1"/>
<polygon points="89.20,370.71 85.48,368.46 85.48,363.94 89.20,361.69 92.92,363.94 92.92,368.46" fill="#000" stroke="#000" stroke-width="1.0"/>
<text x="108.90" y="370.30" font-size="11.5" text-anchor="start" font-weight="400" stroke="#000" stroke-width="0.25">Alimta, 150 mg/kg</text>
<text x="204.10" y="321.80" font-size="11.7" text-anchor="start" font-weight="400" stroke="#000" stroke-width="0.25">Solid = NCI-H460</text>
<text x="204.10" y="335.00" font-size="11.7" text-anchor="start" font-weight="400" stroke="#000" stroke-width="0.25">Open = MV522</text>
<text x="2.40" y="397.70" font-size="16" text-anchor="start" font-weight="700">b</text>
<text x="45.10" y="515.75" font-size="15.05" text-anchor="middle" font-weight="400" stroke="#000" stroke-width="0.25" transform="rotate(-90 45.10 515.75)">Body Weight, % Change from Day 1</text>
<line x1="84.50" y1="428.60" x2="84.50" y2="635.30" stroke="#404040" stroke-width="1"/>
<line x1="81.00" y1="429.09" x2="84.50" y2="429.09" stroke="#404040" stroke-width="1"/>
<text x="77.00" y="433.89" font-size="13.4" text-anchor="end" font-weight="400" stroke="#000" stroke-width="0.25">15</text>
<line x1="81.00" y1="454.66" x2="84.50" y2="454.66" stroke="#404040" stroke-width="1"/>
<text x="77.00" y="459.46" font-size="13.4" text-anchor="end" font-weight="400" stroke="#000" stroke-width="0.25">10</text>
<line x1="81.00" y1="480.23" x2="84.50" y2="480.23" stroke="#404040" stroke-width="1"/>
<text x="77.00" y="485.03" font-size="13.4" text-anchor="end" font-weight="400" stroke="#000" stroke-width="0.25">5</text>
<line x1="81.00" y1="505.80" x2="84.50" y2="505.80" stroke="#404040" stroke-width="1"/>
<text x="77.00" y="510.60" font-size="13.4" text-anchor="end" font-weight="400" stroke="#000" stroke-width="0.25">0</text>
<line x1="81.00" y1="531.37" x2="84.50" y2="531.37" stroke="#404040" stroke-width="1"/>
<text x="77.00" y="536.17" font-size="13.4" text-anchor="end" font-weight="400" stroke="#000" stroke-width="0.25">-5</text>
<line x1="81.00" y1="556.94" x2="84.50" y2="556.94" stroke="#404040" stroke-width="1"/>
<text x="77.00" y="561.74" font-size="13.4" text-anchor="end" font-weight="400" stroke="#000" stroke-width="0.25">-10</text>
<line x1="81.00" y1="582.51" x2="84.50" y2="582.51" stroke="#404040" stroke-width="1"/>
<text x="77.00" y="587.31" font-size="13.4" text-anchor="end" font-weight="400" stroke="#000" stroke-width="0.25">-15</text>
<line x1="81.00" y1="608.08" x2="84.50" y2="608.08" stroke="#404040" stroke-width="1"/>
<text x="77.00" y="612.88" font-size="13.4" text-anchor="end" font-weight="400" stroke="#000" stroke-width="0.25">-20</text>
<line x1="81.00" y1="633.65" x2="84.50" y2="633.65" stroke="#404040" stroke-width="1"/>
<text x="77.00" y="638.45" font-size="13.4" text-anchor="end" font-weight="400" stroke="#000" stroke-width="0.25">-25</text>
<line x1="84.00" y1="634.10" x2="368.60" y2="634.10" stroke="#404040" stroke-width="1"/>
<line x1="93.50" y1="634.10" x2="93.50" y2="637.40" stroke="#404040" stroke-width="1"/>
<line x1="102.65" y1="634.10" x2="102.65" y2="636.30" stroke="#404040" stroke-width="1"/>
<line x1="111.80" y1="634.10" x2="111.80" y2="636.30" stroke="#404040" stroke-width="1"/>
<line x1="120.95" y1="634.10" x2="120.95" y2="636.30" stroke="#404040" stroke-width="1"/>
<line x1="130.10" y1="634.10" x2="130.10" y2="636.30" stroke="#404040" stroke-width="1"/>
<line x1="139.25" y1="634.10" x2="139.25" y2="636.30" stroke="#404040" stroke-width="1"/>
<line x1="148.40" y1="634.10" x2="148.40" y2="636.30" stroke="#404040" stroke-width="1"/>
<line x1="157.55" y1="634.10" x2="157.55" y2="637.40" stroke="#404040" stroke-width="1"/>
<line x1="166.70" y1="634.10" x2="166.70" y2="636.30" stroke="#404040" stroke-width="1"/>
<line x1="175.85" y1="634.10" x2="175.85" y2="636.30" stroke="#404040" stroke-width="1"/>
<line x1="185.00" y1="634.10" x2="185.00" y2="636.30" stroke="#404040" stroke-width="1"/>
<line x1="194.15" y1="634.10" x2="194.15" y2="636.30" stroke="#404040" stroke-width="1"/>
<line x1="203.30" y1="634.10" x2="203.30" y2="636.30" stroke="#404040" stroke-width="1"/>
<line x1="212.45" y1="634.10" x2="212.45" y2="636.30" stroke="#404040" stroke-width="1"/>
<line x1="221.60" y1="634.10" x2="221.60" y2="637.40" stroke="#404040" stroke-width="1"/>
<line x1="230.75" y1="634.10" x2="230.75" y2="636.30" stroke="#404040" stroke-width="1"/>
<line x1="239.90" y1="634.10" x2="239.90" y2="636.30" stroke="#404040" stroke-width="1"/>
<line x1="249.05" y1="634.10" x2="249.05" y2="636.30" stroke="#404040" stroke-width="1"/>
<line x1="258.20" y1="634.10" x2="258.20" y2="636.30" stroke="#404040" stroke-width="1"/>
<line x1="267.35" y1="634.10" x2="267.35" y2="636.30" stroke="#404040" stroke-width="1"/>
<line x1="276.50" y1="634.10" x2="276.50" y2="636.30" stroke="#404040" stroke-width="1"/>
<line x1="285.65" y1="634.10" x2="285.65" y2="637.40" stroke="#404040" stroke-width="1"/>
<line x1="294.80" y1="634.10" x2="294.80" y2="636.30" stroke="#404040" stroke-width="1"/>
<line x1="303.95" y1="634.10" x2="303.95" y2="636.30" stroke="#404040" stroke-width="1"/>
<line x1="313.10" y1="634.10" x2="313.10" y2="636.30" stroke="#404040" stroke-width="1"/>
<line x1="322.25" y1="634.10" x2="322.25" y2="636.30" stroke="#404040" stroke-width="1"/>
<line x1="331.40" y1="634.10" x2="331.40" y2="636.30" stroke="#404040" stroke-width="1"/>
<line x1="340.55" y1="634.10" x2="340.55" y2="636.30" stroke="#404040" stroke-width="1"/>
<line x1="349.70" y1="634.10" x2="349.70" y2="637.40" stroke="#404040" stroke-width="1"/>
<line x1="358.85" y1="634.10" x2="358.85" y2="636.30" stroke="#404040" stroke-width="1"/>
<line x1="368.00" y1="634.10" x2="368.00" y2="636.30" stroke="#404040" stroke-width="1"/>
<text x="93.50" y="651.90" font-size="13.4" text-anchor="middle" font-weight="400" stroke="#000" stroke-width="0.25">0</text>
<text x="157.55" y="651.90" font-size="13.4" text-anchor="middle" font-weight="400" stroke="#000" stroke-width="0.25">7</text>
<text x="221.60" y="651.90" font-size="13.4" text-anchor="middle" font-weight="400" stroke="#000" stroke-width="0.25">14</text>
<text x="285.65" y="651.90" font-size="13.4" text-anchor="middle" font-weight="400" stroke="#000" stroke-width="0.25">21</text>
<text x="349.70" y="651.90" font-size="13.4" text-anchor="middle" font-weight="400" stroke="#000" stroke-width="0.25">28</text>
<text x="212.30" y="672.00" font-size="14.2" text-anchor="start" font-weight="400" stroke="#000" stroke-width="0.25">Days</text>
<line x1="130.10" y1="491.99" x2="130.10" y2="495.06" stroke="#000" stroke-width="1"/>
<line x1="126.80" y1="491.99" x2="133.40" y2="491.99" stroke="#000" stroke-width="1"/>
<line x1="126.80" y1="495.06" x2="133.40" y2="495.06" stroke="#000" stroke-width="1"/>
<line x1="166.70" y1="472.30" x2="166.70" y2="490.71" stroke="#000" stroke-width="1"/>
<line x1="163.40" y1="472.30" x2="170.00" y2="472.30" stroke="#000" stroke-width="1"/>
<line x1="163.40" y1="490.71" x2="170.00" y2="490.71" stroke="#000" stroke-width="1"/>
<line x1="194.15" y1="468.98" x2="194.15" y2="490.46" stroke="#000" stroke-width="1"/>
<line x1="190.85" y1="468.98" x2="197.45" y2="468.98" stroke="#000" stroke-width="1"/>
<line x1="190.85" y1="490.46" x2="197.45" y2="490.46" stroke="#000" stroke-width="1"/>
<line x1="230.75" y1="481.25" x2="230.75" y2="490.46" stroke="#000" stroke-width="1"/>
<line x1="227.45" y1="481.25" x2="234.05" y2="481.25" stroke="#000" stroke-width="1"/>
<line x1="227.45" y1="490.46" x2="234.05" y2="490.46" stroke="#000" stroke-width="1"/>
<polyline points="102.65,505.80 130.10,493.53 166.70,481.51 194.15,479.72 230.75,485.86" fill="none" stroke="#000" stroke-width="1"/>
<line x1="130.10" y1="500.69" x2="130.10" y2="505.80" stroke="#000" stroke-width="1"/>
<line x1="126.80" y1="500.69" x2="133.40" y2="500.69" stroke="#000" stroke-width="1"/>
<line x1="126.80" y1="505.80" x2="133.40" y2="505.80" stroke="#000" stroke-width="1"/>
<line x1="166.70" y1="495.57" x2="166.70" y2="505.80" stroke="#000" stroke-width="1"/>
<line x1="163.40" y1="495.57" x2="170.00" y2="495.57" stroke="#000" stroke-width="1"/>
<line x1="163.40" y1="505.80" x2="170.00" y2="505.80" stroke="#000" stroke-width="1"/>
<line x1="194.15" y1="496.85" x2="194.15" y2="512.19" stroke="#000" stroke-width="1"/>
<line x1="190.85" y1="496.85" x2="197.45" y2="496.85" stroke="#000" stroke-width="1"/>
<line x1="190.85" y1="512.19" x2="197.45" y2="512.19" stroke="#000" stroke-width="1"/>
<line x1="230.75" y1="517.31" x2="230.75" y2="532.65" stroke="#000" stroke-width="1"/>
<line x1="227.45" y1="517.31" x2="234.05" y2="517.31" stroke="#000" stroke-width="1"/>
<line x1="227.45" y1="532.65" x2="234.05" y2="532.65" stroke="#000" stroke-width="1"/>
<polyline points="102.65,505.80 130.10,503.24 166.70,500.69 194.15,504.52 230.75,524.98" fill="none" stroke="#000" stroke-width="1"/>
<line x1="130.10" y1="508.36" x2="130.10" y2="513.47" stroke="#000" stroke-width="1"/>
<line x1="126.80" y1="508.36" x2="133.40" y2="508.36" stroke="#000" stroke-width="1"/>
<line x1="126.80" y1="513.47" x2="133.40" y2="513.47" stroke="#000" stroke-width="1"/>
<line x1="166.70" y1="498.13" x2="166.70" y2="508.36" stroke="#000" stroke-width="1"/>
<line x1="163.40" y1="498.13" x2="170.00" y2="498.13" stroke="#000" stroke-width="1"/>
<line x1="163.40" y1="508.36" x2="170.00" y2="508.36" stroke="#000" stroke-width="1"/>
<line x1="194.15" y1="532.39" x2="194.15" y2="547.73" stroke="#000" stroke-width="1"/>
<line x1="190.85" y1="532.39" x2="197.45" y2="532.39" stroke="#000" stroke-width="1"/>
<line x1="190.85" y1="547.73" x2="197.45" y2="547.73" stroke="#000" stroke-width="1"/>
<line x1="230.75" y1="571.77" x2="230.75" y2="610.64" stroke="#000" stroke-width="1"/>
<line x1="227.45" y1="571.77" x2="234.05" y2="571.77" stroke="#000" stroke-width="1"/>
<line x1="227.45" y1="610.64" x2="234.05" y2="610.64" stroke="#000" stroke-width="1"/>
<polyline points="102.65,505.80 130.10,510.91 166.70,503.24 194.15,540.06 230.75,591.20" fill="none" stroke="#000" stroke-width="1"/>
<line x1="130.10" y1="495.57" x2="130.10" y2="500.69" stroke="#000" stroke-width="1"/>
<line x1="126.80" y1="495.57" x2="133.40" y2="495.57" stroke="#000" stroke-width="1"/>
<line x1="126.80" y1="500.69" x2="133.40" y2="500.69" stroke="#000" stroke-width="1"/>
<line x1="166.70" y1="491.48" x2="166.70" y2="501.71" stroke="#000" stroke-width="1"/>
<line x1="163.40" y1="491.48" x2="170.00" y2="491.48" stroke="#000" stroke-width="1"/>
<line x1="163.40" y1="501.71" x2="170.00" y2="501.71" stroke="#000" stroke-width="1"/>
<line x1="194.15" y1="503.24" x2="194.15" y2="518.59" stroke="#000" stroke-width="1"/>
<line x1="190.85" y1="503.24" x2="197.45" y2="503.24" stroke="#000" stroke-width="1"/>
<line x1="190.85" y1="518.59" x2="197.45" y2="518.59" stroke="#000" stroke-width="1"/>
<line x1="230.75" y1="486.37" x2="230.75" y2="501.71" stroke="#000" stroke-width="1"/>
<line x1="227.45" y1="486.37" x2="234.05" y2="486.37" stroke="#000" stroke-width="1"/>
<line x1="227.45" y1="501.71" x2="234.05" y2="501.71" stroke="#000" stroke-width="1"/>
<polyline points="102.65,505.80 130.10,498.13 166.70,496.59 194.15,510.91 230.75,494.04" fill="none" stroke="#000" stroke-width="1"/>
<line x1="130.10" y1="498.13" x2="130.10" y2="503.24" stroke="#000" stroke-width="1"/>
<line x1="126.80" y1="498.13" x2="133.40" y2="498.13" stroke="#000" stroke-width="1"/>
<line x1="126.80" y1="503.24" x2="133.40" y2="503.24" stroke="#000" stroke-width="1"/>
<line x1="166.70" y1="490.46" x2="166.70" y2="500.69" stroke="#000" stroke-width="1"/>
<line x1="163.40" y1="490.46" x2="170.00" y2="490.46" stroke="#000" stroke-width="1"/>
<line x1="163.40" y1="500.69" x2="170.00" y2="500.69" stroke="#000" stroke-width="1"/>
<line x1="194.15" y1="523.19" x2="194.15" y2="538.53" stroke="#000" stroke-width="1"/>
<line x1="190.85" y1="523.19" x2="197.45" y2="523.19" stroke="#000" stroke-width="1"/>
<line x1="190.85" y1="538.53" x2="197.45" y2="538.53" stroke="#000" stroke-width="1"/>
<line x1="230.75" y1="516.03" x2="230.75" y2="547.73" stroke="#000" stroke-width="1"/>
<line x1="227.45" y1="516.03" x2="234.05" y2="516.03" stroke="#000" stroke-width="1"/>
<line x1="227.45" y1="547.73" x2="234.05" y2="547.73" stroke="#000" stroke-width="1"/>
<polyline points="102.65,505.80 130.10,500.69 166.70,495.57 194.15,530.86 230.75,531.88" fill="none" stroke="#000" stroke-width="1"/>
<line x1="130.10" y1="504.78" x2="130.10" y2="509.89" stroke="#000" stroke-width="1"/>
<line x1="126.80" y1="504.78" x2="133.40" y2="504.78" stroke="#000" stroke-width="1"/>
<line x1="126.80" y1="509.89" x2="133.40" y2="509.89" stroke="#000" stroke-width="1"/>
<line x1="166.70" y1="495.57" x2="166.70" y2="505.80" stroke="#000" stroke-width="1"/>
<line x1="163.40" y1="495.57" x2="170.00" y2="495.57" stroke="#000" stroke-width="1"/>
<line x1="163.40" y1="505.80" x2="170.00" y2="505.80" stroke="#000" stroke-width="1"/>
<line x1="194.15" y1="505.80" x2="194.15" y2="521.14" stroke="#000" stroke-width="1"/>
<line x1="190.85" y1="505.80" x2="197.45" y2="505.80" stroke="#000" stroke-width="1"/>
<line x1="190.85" y1="521.14" x2="197.45" y2="521.14" stroke="#000" stroke-width="1"/>
<line x1="230.75" y1="511.43" x2="230.75" y2="526.77" stroke="#000" stroke-width="1"/>
<line x1="227.45" y1="511.43" x2="234.05" y2="511.43" stroke="#000" stroke-width="1"/>
<line x1="227.45" y1="526.77" x2="234.05" y2="526.77" stroke="#000" stroke-width="1"/>
<polyline points="102.65,505.80 130.10,507.33 166.70,500.69 194.15,513.47 230.75,519.10" fill="none" stroke="#000" stroke-width="1"/>
<line x1="139.25" y1="501.71" x2="139.25" y2="506.82" stroke="#000" stroke-width="1"/>
<line x1="135.95" y1="501.71" x2="142.55" y2="501.71" stroke="#000" stroke-width="1"/>
<line x1="135.95" y1="506.82" x2="142.55" y2="506.82" stroke="#000" stroke-width="1"/>
<line x1="166.70" y1="498.13" x2="166.70" y2="508.36" stroke="#000" stroke-width="1"/>
<line x1="163.40" y1="498.13" x2="170.00" y2="498.13" stroke="#000" stroke-width="1"/>
<line x1="163.40" y1="508.36" x2="170.00" y2="508.36" stroke="#000" stroke-width="1"/>
<line x1="194.15" y1="510.91" x2="194.15" y2="521.14" stroke="#000" stroke-width="1"/>
<line x1="190.85" y1="510.91" x2="197.45" y2="510.91" stroke="#000" stroke-width="1"/>
<line x1="190.85" y1="521.14" x2="197.45" y2="521.14" stroke="#000" stroke-width="1"/>
<line x1="212.45" y1="503.24" x2="212.45" y2="513.47" stroke="#000" stroke-width="1"/>
<line x1="209.15" y1="503.24" x2="215.75" y2="503.24" stroke="#000" stroke-width="1"/>
<line x1="209.15" y1="513.47" x2="215.75" y2="513.47" stroke="#000" stroke-width="1"/>
<line x1="267.35" y1="479.21" x2="267.35" y2="494.55" stroke="#000" stroke-width="1"/>
<line x1="264.05" y1="479.21" x2="270.65" y2="479.21" stroke="#000" stroke-width="1"/>
<line x1="264.05" y1="494.55" x2="270.65" y2="494.55" stroke="#000" stroke-width="1"/>
<line x1="294.80" y1="443.92" x2="294.80" y2="459.26" stroke="#000" stroke-width="1"/>
<line x1="291.50" y1="443.92" x2="298.10" y2="443.92" stroke="#000" stroke-width="1"/>
<line x1="291.50" y1="459.26" x2="298.10" y2="459.26" stroke="#000" stroke-width="1"/>
<line x1="331.40" y1="474.60" x2="331.40" y2="512.45" stroke="#000" stroke-width="1"/>
<line x1="328.10" y1="474.60" x2="334.70" y2="474.60" stroke="#000" stroke-width="1"/>
<line x1="328.10" y1="512.45" x2="334.70" y2="512.45" stroke="#000" stroke-width="1"/>
<line x1="358.85" y1="485.86" x2="358.85" y2="501.20" stroke="#000" stroke-width="1"/>
<line x1="355.55" y1="485.86" x2="362.15" y2="485.86" stroke="#000" stroke-width="1"/>
<line x1="355.55" y1="501.20" x2="362.15" y2="501.20" stroke="#000" stroke-width="1"/>
<polyline points="102.65,505.80 139.25,504.27 166.70,503.24 194.15,516.03 212.45,508.36 267.35,486.88 294.80,451.59 331.40,493.53 358.85,493.53" fill="none" stroke="#000" stroke-width="1"/>
<line x1="139.25" y1="500.69" x2="139.25" y2="505.80" stroke="#000" stroke-width="1"/>
<line x1="135.95" y1="500.69" x2="142.55" y2="500.69" stroke="#000" stroke-width="1"/>
<line x1="135.95" y1="505.80" x2="142.55" y2="505.80" stroke="#000" stroke-width="1"/>
<line x1="166.70" y1="466.42" x2="166.70" y2="479.72" stroke="#000" stroke-width="1"/>
<line x1="163.40" y1="466.42" x2="170.00" y2="466.42" stroke="#000" stroke-width="1"/>
<line x1="163.40" y1="479.72" x2="170.00" y2="479.72" stroke="#000" stroke-width="1"/>
<line x1="194.15" y1="518.59" x2="194.15" y2="528.81" stroke="#000" stroke-width="1"/>
<line x1="190.85" y1="518.59" x2="197.45" y2="518.59" stroke="#000" stroke-width="1"/>
<line x1="190.85" y1="528.81" x2="197.45" y2="528.81" stroke="#000" stroke-width="1"/>
<line x1="212.45" y1="508.36" x2="212.45" y2="518.59" stroke="#000" stroke-width="1"/>
<line x1="209.15" y1="508.36" x2="215.75" y2="508.36" stroke="#000" stroke-width="1"/>
<line x1="209.15" y1="518.59" x2="215.75" y2="518.59" stroke="#000" stroke-width="1"/>
<line x1="267.35" y1="480.23" x2="267.35" y2="495.57" stroke="#000" stroke-width="1"/>
<line x1="264.05" y1="480.23" x2="270.65" y2="480.23" stroke="#000" stroke-width="1"/>
<line x1="264.05" y1="495.57" x2="270.65" y2="495.57" stroke="#000" stroke-width="1"/>
<line x1="294.80" y1="444.43" x2="294.80" y2="459.77" stroke="#000" stroke-width="1"/>
<line x1="291.50" y1="444.43" x2="298.10" y2="444.43" stroke="#000" stroke-width="1"/>
<line x1="291.50" y1="459.77" x2="298.10" y2="459.77" stroke="#000" stroke-width="1"/>
<line x1="331.40" y1="484.83" x2="331.40" y2="500.17" stroke="#000" stroke-width="1"/>
<line x1="328.10" y1="484.83" x2="334.70" y2="484.83" stroke="#000" stroke-width="1"/>
<line x1="328.10" y1="500.17" x2="334.70" y2="500.17" stroke="#000" stroke-width="1"/>
<line x1="358.85" y1="476.65" x2="358.85" y2="491.99" stroke="#000" stroke-width="1"/>
<line x1="355.55" y1="476.65" x2="362.15" y2="476.65" stroke="#000" stroke-width="1"/>
<line x1="355.55" y1="491.99" x2="362.15" y2="491.99" stroke="#000" stroke-width="1"/>
<polyline points="102.65,505.80 139.25,503.24 166.70,473.07 194.15,523.70 212.45,513.47 267.35,487.90 294.80,452.10 331.40,492.50 358.85,484.32" fill="none" stroke="#000" stroke-width="1"/>
<line x1="139.25" y1="502.22" x2="139.25" y2="507.33" stroke="#000" stroke-width="1"/>
<line x1="135.95" y1="502.22" x2="142.55" y2="502.22" stroke="#000" stroke-width="1"/>
<line x1="135.95" y1="507.33" x2="142.55" y2="507.33" stroke="#000" stroke-width="1"/>
<line x1="166.70" y1="517.05" x2="166.70" y2="530.35" stroke="#000" stroke-width="1"/>
<line x1="163.40" y1="517.05" x2="170.00" y2="517.05" stroke="#000" stroke-width="1"/>
<line x1="163.40" y1="530.35" x2="170.00" y2="530.35" stroke="#000" stroke-width="1"/>
<line x1="194.15" y1="558.47" x2="194.15" y2="598.36" stroke="#000" stroke-width="1"/>
<line x1="190.85" y1="558.47" x2="197.45" y2="558.47" stroke="#000" stroke-width="1"/>
<line x1="190.85" y1="598.36" x2="197.45" y2="598.36" stroke="#000" stroke-width="1"/>
<line x1="212.45" y1="580.46" x2="212.45" y2="624.44" stroke="#000" stroke-width="1"/>
<line x1="209.15" y1="580.46" x2="215.75" y2="580.46" stroke="#000" stroke-width="1"/>
<line x1="209.15" y1="624.44" x2="215.75" y2="624.44" stroke="#000" stroke-width="1"/>
<line x1="267.35" y1="501.20" x2="267.35" y2="555.41" stroke="#000" stroke-width="1"/>
<line x1="264.05" y1="501.20" x2="270.65" y2="501.20" stroke="#000" stroke-width="1"/>
<line x1="264.05" y1="555.41" x2="270.65" y2="555.41" stroke="#000" stroke-width="1"/>
<line x1="294.80" y1="470.26" x2="294.80" y2="485.60" stroke="#000" stroke-width="1"/>
<line x1="291.50" y1="470.26" x2="298.10" y2="470.26" stroke="#000" stroke-width="1"/>
<line x1="291.50" y1="485.60" x2="298.10" y2="485.60" stroke="#000" stroke-width="1"/>
<line x1="331.40" y1="475.63" x2="331.40" y2="511.43" stroke="#000" stroke-width="1"/>
<line x1="328.10" y1="475.63" x2="334.70" y2="475.63" stroke="#000" stroke-width="1"/>
<line x1="328.10" y1="511.43" x2="334.70" y2="511.43" stroke="#000" stroke-width="1"/>
<line x1="358.85" y1="439.83" x2="358.85" y2="499.15" stroke="#000" stroke-width="1"/>
<line x1="355.55" y1="439.83" x2="362.15" y2="439.83" stroke="#000" stroke-width="1"/>
<line x1="355.55" y1="499.15" x2="362.15" y2="499.15" stroke="#000" stroke-width="1"/>
<polyline points="102.65,505.80 139.25,504.78 166.70,523.70 194.15,578.42 212.45,602.45 267.35,528.30 294.80,477.93 331.40,493.53 358.85,469.49" fill="none" stroke="#000" stroke-width="1"/>
<line x1="139.25" y1="507.33" x2="139.25" y2="512.45" stroke="#000" stroke-width="1"/>
<line x1="135.95" y1="507.33" x2="142.55" y2="507.33" stroke="#000" stroke-width="1"/>
<line x1="135.95" y1="512.45" x2="142.55" y2="512.45" stroke="#000" stroke-width="1"/>
<line x1="166.70" y1="503.75" x2="166.70" y2="513.98" stroke="#000" stroke-width="1"/>
<line x1="163.40" y1="503.75" x2="170.00" y2="503.75" stroke="#000" stroke-width="1"/>
<line x1="163.40" y1="513.98" x2="170.00" y2="513.98" stroke="#000" stroke-width="1"/>
<line x1="194.15" y1="513.47" x2="194.15" y2="523.70" stroke="#000" stroke-width="1"/>
<line x1="190.85" y1="513.47" x2="197.45" y2="513.47" stroke="#000" stroke-width="1"/>
<line x1="190.85" y1="523.70" x2="197.45" y2="523.70" stroke="#000" stroke-width="1"/>
<line x1="212.45" y1="494.55" x2="212.45" y2="529.32" stroke="#000" stroke-width="1"/>
<line x1="209.15" y1="494.55" x2="215.75" y2="494.55" stroke="#000" stroke-width="1"/>
<line x1="209.15" y1="529.32" x2="215.75" y2="529.32" stroke="#000" stroke-width="1"/>
<line x1="267.35" y1="476.65" x2="267.35" y2="491.99" stroke="#000" stroke-width="1"/>
<line x1="264.05" y1="476.65" x2="270.65" y2="476.65" stroke="#000" stroke-width="1"/>
<line x1="264.05" y1="491.99" x2="270.65" y2="491.99" stroke="#000" stroke-width="1"/>
<line x1="294.80" y1="457.22" x2="294.80" y2="472.56" stroke="#000" stroke-width="1"/>
<line x1="291.50" y1="457.22" x2="298.10" y2="457.22" stroke="#000" stroke-width="1"/>
<line x1="291.50" y1="472.56" x2="298.10" y2="472.56" stroke="#000" stroke-width="1"/>
<line x1="331.40" y1="492.25" x2="331.40" y2="515.26" stroke="#000" stroke-width="1"/>
<line x1="328.10" y1="492.25" x2="334.70" y2="492.25" stroke="#000" stroke-width="1"/>
<line x1="328.10" y1="515.26" x2="334.70" y2="515.26" stroke="#000" stroke-width="1"/>
<line x1="358.85" y1="486.11" x2="358.85" y2="499.41" stroke="#000" stroke-width="1"/>
<line x1="355.55" y1="486.11" x2="362.15" y2="486.11" stroke="#000" stroke-width="1"/>
<line x1="355.55" y1="499.41" x2="362.15" y2="499.41" stroke="#000" stroke-width="1"/>
<polyline points="102.65,505.80 139.25,509.89 166.70,508.87 194.15,518.59 212.45,511.94 267.35,484.32 294.80,464.89 331.40,503.75 358.85,492.76" fill="none" stroke="#000" stroke-width="1"/>
<line x1="139.25" y1="494.55" x2="139.25" y2="499.66" stroke="#000" stroke-width="1"/>
<line x1="135.95" y1="494.55" x2="142.55" y2="494.55" stroke="#000" stroke-width="1"/>
<line x1="135.95" y1="499.66" x2="142.55" y2="499.66" stroke="#000" stroke-width="1"/>
<line x1="166.70" y1="493.53" x2="166.70" y2="503.75" stroke="#000" stroke-width="1"/>
<line x1="163.40" y1="493.53" x2="170.00" y2="493.53" stroke="#000" stroke-width="1"/>
<line x1="163.40" y1="503.75" x2="170.00" y2="503.75" stroke="#000" stroke-width="1"/>
<line x1="194.15" y1="506.82" x2="194.15" y2="517.05" stroke="#000" stroke-width="1"/>
<line x1="190.85" y1="506.82" x2="197.45" y2="506.82" stroke="#000" stroke-width="1"/>
<line x1="190.85" y1="517.05" x2="197.45" y2="517.05" stroke="#000" stroke-width="1"/>
<line x1="212.45" y1="494.91" x2="212.45" y2="512.29" stroke="#000" stroke-width="1"/>
<line x1="209.15" y1="494.91" x2="215.75" y2="494.91" stroke="#000" stroke-width="1"/>
<line x1="209.15" y1="512.29" x2="215.75" y2="512.29" stroke="#000" stroke-width="1"/>
<line x1="267.35" y1="455.43" x2="267.35" y2="471.79" stroke="#000" stroke-width="1"/>
<line x1="264.05" y1="455.43" x2="270.65" y2="455.43" stroke="#000" stroke-width="1"/>
<line x1="264.05" y1="471.79" x2="270.65" y2="471.79" stroke="#000" stroke-width="1"/>
<line x1="294.80" y1="443.41" x2="294.80" y2="458.75" stroke="#000" stroke-width="1"/>
<line x1="291.50" y1="443.41" x2="298.10" y2="443.41" stroke="#000" stroke-width="1"/>
<line x1="291.50" y1="458.75" x2="298.10" y2="458.75" stroke="#000" stroke-width="1"/>
<line x1="331.40" y1="466.93" x2="331.40" y2="502.73" stroke="#000" stroke-width="1"/>
<line x1="328.10" y1="466.93" x2="334.70" y2="466.93" stroke="#000" stroke-width="1"/>
<line x1="328.10" y1="502.73" x2="334.70" y2="502.73" stroke="#000" stroke-width="1"/>
<line x1="358.85" y1="466.93" x2="358.85" y2="482.28" stroke="#000" stroke-width="1"/>
<line x1="355.55" y1="466.93" x2="362.15" y2="466.93" stroke="#000" stroke-width="1"/>
<line x1="355.55" y1="482.28" x2="362.15" y2="482.28" stroke="#000" stroke-width="1"/>
<polyline points="102.65,505.80 139.25,497.11 166.70,498.64 194.15,511.94 212.45,503.60 267.35,463.61 294.80,451.08 331.40,484.83 358.85,474.60" fill="none" stroke="#000" stroke-width="1"/>
<line x1="139.25" y1="508.36" x2="139.25" y2="513.47" stroke="#000" stroke-width="1"/>
<line x1="135.95" y1="508.36" x2="142.55" y2="508.36" stroke="#000" stroke-width="1"/>
<line x1="135.95" y1="513.47" x2="142.55" y2="513.47" stroke="#000" stroke-width="1"/>
<line x1="166.70" y1="520.63" x2="166.70" y2="533.93" stroke="#000" stroke-width="1"/>
<line x1="163.40" y1="520.63" x2="170.00" y2="520.63" stroke="#000" stroke-width="1"/>
<line x1="163.40" y1="533.93" x2="170.00" y2="533.93" stroke="#000" stroke-width="1"/>
<line x1="194.15" y1="551.31" x2="194.15" y2="577.91" stroke="#000" stroke-width="1"/>
<line x1="190.85" y1="551.31" x2="197.45" y2="551.31" stroke="#000" stroke-width="1"/>
<line x1="190.85" y1="577.91" x2="197.45" y2="577.91" stroke="#000" stroke-width="1"/>
<line x1="212.45" y1="570.24" x2="212.45" y2="596.83" stroke="#000" stroke-width="1"/>
<line x1="209.15" y1="570.24" x2="215.75" y2="570.24" stroke="#000" stroke-width="1"/>
<line x1="209.15" y1="596.83" x2="215.75" y2="596.83" stroke="#000" stroke-width="1"/>
<line x1="267.35" y1="547.48" x2="267.35" y2="572.54" stroke="#000" stroke-width="1"/>
<line x1="264.05" y1="547.48" x2="270.65" y2="547.48" stroke="#000" stroke-width="1"/>
<line x1="264.05" y1="572.54" x2="270.65" y2="572.54" stroke="#000" stroke-width="1"/>
<line x1="294.80" y1="500.17" x2="294.80" y2="520.63" stroke="#000" stroke-width="1"/>
<line x1="291.50" y1="500.17" x2="298.10" y2="500.17" stroke="#000" stroke-width="1"/>
<line x1="291.50" y1="520.63" x2="298.10" y2="520.63" stroke="#000" stroke-width="1"/>
<line x1="331.40" y1="527.28" x2="331.40" y2="545.69" stroke="#000" stroke-width="1"/>
<line x1="328.10" y1="527.28" x2="334.70" y2="527.28" stroke="#000" stroke-width="1"/>
<line x1="328.10" y1="545.69" x2="334.70" y2="545.69" stroke="#000" stroke-width="1"/>
<line x1="358.85" y1="518.33" x2="358.85" y2="532.65" stroke="#000" stroke-width="1"/>
<line x1="355.55" y1="518.33" x2="362.15" y2="518.33" stroke="#000" stroke-width="1"/>
<line x1="355.55" y1="532.65" x2="362.15" y2="532.65" stroke="#000" stroke-width="1"/>
<polyline points="102.65,505.80 139.25,510.91 166.70,527.28 194.15,564.61 212.45,583.53 267.35,560.01 294.80,510.40 331.40,536.48 358.85,525.49" fill="none" stroke="#000" stroke-width="1"/>
<circle cx="102.65" cy="505.80" r="3.65" fill="#000" stroke="#000" stroke-width="1.0"/>
<circle cx="130.10" cy="493.53" r="3.65" fill="#000" stroke="#000" stroke-width="1.0"/>
<circle cx="166.70" cy="481.51" r="3.65" fill="#000" stroke="#000" stroke-width="1.0"/>
<circle cx="194.15" cy="479.72" r="3.65" fill="#000" stroke="#000" stroke-width="1.0"/>
<circle cx="230.75" cy="485.86" r="3.65" fill="#000" stroke="#000" stroke-width="1.0"/>
<polygon points="102.65,510.52 106.73,503.44 98.57,503.44" fill="#000" stroke="#000" stroke-width="1.0"/>
<polygon points="130.10,507.96 134.19,500.88 126.02,500.88" fill="#000" stroke="#000" stroke-width="1.0"/>
<polygon points="166.70,505.40 170.78,498.33 162.61,498.33" fill="#000" stroke="#000" stroke-width="1.0"/>
<polygon points="194.15,509.24 198.24,502.16 190.06,502.16" fill="#000" stroke="#000" stroke-width="1.0"/>
<polygon points="230.75,529.69 234.84,522.62 226.66,522.62" fill="#000" stroke="#000" stroke-width="1.0"/>
<rect x="99.21" y="502.36" width="6.88" height="6.88" fill="#000" stroke="#000" stroke-width="1.0"/>
<rect x="126.66" y="507.47" width="6.88" height="6.88" fill="#000" stroke="#000" stroke-width="1.0"/>
<rect x="163.26" y="499.80" width="6.88" height="6.88" fill="#000" stroke="#000" stroke-width="1.0"/>
<rect x="190.71" y="536.62" width="6.88" height="6.88" fill="#000" stroke="#000" stroke-width="1.0"/>
<rect x="227.31" y="587.76" width="6.88" height="6.88" fill="#000" stroke="#000" stroke-width="1.0"/>
<polygon points="102.65,501.08 106.73,508.16 98.57,508.16" fill="#000" stroke="#000" stroke-width="1.0"/>
<polygon points="130.10,495.97 134.19,503.04 126.02,503.04" fill="#000" stroke="#000" stroke-width="1.0"/>
<polygon points="166.70,490.86 170.78,497.93 162.61,497.93" fill="#000" stroke="#000" stroke-width="1.0"/>
<polygon points="194.15,526.14 198.24,533.22 190.06,533.22" fill="#000" stroke="#000" stroke-width="1.0"/>
<polygon points="230.75,527.16 234.84,534.24 226.66,534.24" fill="#000" stroke="#000" stroke-width="1.0"/>
<polygon points="102.65,501.20 107.25,505.80 102.65,510.40 98.05,505.80" fill="#000" stroke="#000" stroke-width="1.0"/>
<polygon points="130.10,493.53 134.70,498.13 130.10,502.73 125.50,498.13" fill="#000" stroke="#000" stroke-width="1.0"/>
<polygon points="166.70,491.99 171.30,496.59 166.70,501.19 162.10,496.59" fill="#000" stroke="#000" stroke-width="1.0"/>
<polygon points="194.15,506.31 198.75,510.91 194.15,515.51 189.55,510.91" fill="#000" stroke="#000" stroke-width="1.0"/>
<polygon points="230.75,489.44 235.35,494.04 230.75,498.64 226.15,494.04" fill="#000" stroke="#000" stroke-width="1.0"/>
<polygon points="102.65,509.80 98.80,507.80 98.80,503.80 102.65,501.80 106.50,503.80 106.50,507.80" fill="#000" stroke="#000" stroke-width="1.0"/>
<polygon points="130.10,511.33 126.25,509.33 126.25,505.33 130.10,503.33 133.95,505.33 133.95,509.33" fill="#000" stroke="#000" stroke-width="1.0"/>
<polygon points="166.70,504.69 162.85,502.69 162.85,498.69 166.70,496.69 170.55,498.69 170.55,502.69" fill="#000" stroke="#000" stroke-width="1.0"/>
<polygon points="194.15,517.47 190.30,515.47 190.30,511.47 194.15,509.47 198.00,511.47 198.00,515.47" fill="#000" stroke="#000" stroke-width="1.0"/>
<polygon points="230.75,523.10 226.90,521.10 226.90,517.10 230.75,515.10 234.60,517.10 234.60,521.10" fill="#000" stroke="#000" stroke-width="1.0"/>
<circle cx="102.65" cy="505.80" r="3.65" fill="#fff" stroke="#000" stroke-width="1.0"/>
<circle cx="139.25" cy="504.27" r="3.65" fill="#fff" stroke="#000" stroke-width="1.0"/>
<circle cx="166.70" cy="503.24" r="3.65" fill="#fff" stroke="#000" stroke-width="1.0"/>
<circle cx="194.15" cy="516.03" r="3.65" fill="#fff" stroke="#000" stroke-width="1.0"/>
<circle cx="212.45" cy="508.36" r="3.65" fill="#fff" stroke="#000" stroke-width="1.0"/>
<circle cx="267.35" cy="486.88" r="3.65" fill="#fff" stroke="#000" stroke-width="1.0"/>
<circle cx="294.80" cy="451.59" r="3.65" fill="#fff" stroke="#000" stroke-width="1.0"/>
<circle cx="331.40" cy="493.53" r="3.65" fill="#fff" stroke="#000" stroke-width="1.0"/>
<circle cx="358.85" cy="493.53" r="3.65" fill="#fff" stroke="#000" stroke-width="1.0"/>
<polygon points="102.65,510.52 106.73,503.44 98.57,503.44" fill="#fff" stroke="#000" stroke-width="1.0"/>
<polygon points="139.25,507.96 143.34,500.88 135.16,500.88" fill="#fff" stroke="#000" stroke-width="1.0"/>
<polygon points="166.70,477.79 170.78,470.71 162.61,470.71" fill="#fff" stroke="#000" stroke-width="1.0"/>
<polygon points="194.15,528.42 198.24,521.34 190.06,521.34" fill="#fff" stroke="#000" stroke-width="1.0"/>
<polygon points="212.45,518.19 216.53,511.11 208.36,511.11" fill="#fff" stroke="#000" stroke-width="1.0"/>
<polygon points="267.35,492.62 271.44,485.54 263.27,485.54" fill="#fff" stroke="#000" stroke-width="1.0"/>
<polygon points="294.80,456.82 298.88,449.74 290.72,449.74" fill="#fff" stroke="#000" stroke-width="1.0"/>
<polygon points="331.40,497.22 335.48,490.15 327.31,490.15" fill="#fff" stroke="#000" stroke-width="1.0"/>
<polygon points="358.85,489.04 362.94,481.96 354.77,481.96" fill="#fff" stroke="#000" stroke-width="1.0"/>
<rect x="99.21" y="502.36" width="6.88" height="6.88" fill="#fff" stroke="#000" stroke-width="1.0"/>
<rect x="135.81" y="501.34" width="6.88" height="6.88" fill="#fff" stroke="#000" stroke-width="1.0"/>
<rect x="163.26" y="520.26" width="6.88" height="6.88" fill="#fff" stroke="#000" stroke-width="1.0"/>
<rect x="190.71" y="574.98" width="6.88" height="6.88" fill="#fff" stroke="#000" stroke-width="1.0"/>
<rect x="209.01" y="599.01" width="6.88" height="6.88" fill="#fff" stroke="#000" stroke-width="1.0"/>
<rect x="263.91" y="524.86" width="6.88" height="6.88" fill="#fff" stroke="#000" stroke-width="1.0"/>
<rect x="291.36" y="474.49" width="6.88" height="6.88" fill="#fff" stroke="#000" stroke-width="1.0"/>
<rect x="327.96" y="490.09" width="6.88" height="6.88" fill="#fff" stroke="#000" stroke-width="1.0"/>
<rect x="355.41" y="466.05" width="6.88" height="6.88" fill="#fff" stroke="#000" stroke-width="1.0"/>
<polygon points="102.65,501.08 106.73,508.16 98.57,508.16" fill="#fff" stroke="#000" stroke-width="1.0"/>
<polygon points="139.25,492.39 143.34,499.46 135.16,499.46" fill="#fff" stroke="#000" stroke-width="1.0"/>
<polygon points="166.70,493.92 170.78,501.00 162.61,501.00" fill="#fff" stroke="#000" stroke-width="1.0"/>
<polygon points="194.15,507.22 198.24,514.30 190.06,514.30" fill="#fff" stroke="#000" stroke-width="1.0"/>
<polygon points="212.45,498.88 216.53,505.96 208.36,505.96" fill="#fff" stroke="#000" stroke-width="1.0"/>
<polygon points="267.35,458.89 271.44,465.97 263.27,465.97" fill="#fff" stroke="#000" stroke-width="1.0"/>
<polygon points="294.80,446.36 298.88,453.44 290.72,453.44" fill="#fff" stroke="#000" stroke-width="1.0"/>
<polygon points="331.40,480.12 335.48,487.19 327.31,487.19" fill="#fff" stroke="#000" stroke-width="1.0"/>
<polygon points="358.85,469.89 362.94,476.96 354.77,476.96" fill="#fff" stroke="#000" stroke-width="1.0"/>
<polygon points="102.65,501.20 107.25,505.80 102.65,510.40 98.05,505.80" fill="#fff" stroke="#000" stroke-width="1.0"/>
<polygon points="139.25,505.29 143.85,509.89 139.25,514.49 134.65,509.89" fill="#fff" stroke="#000" stroke-width="1.0"/>
<polygon points="166.70,504.27 171.30,508.87 166.70,513.47 162.10,508.87" fill="#fff" stroke="#000" stroke-width="1.0"/>
<polygon points="194.15,513.99 198.75,518.59 194.15,523.19 189.55,518.59" fill="#fff" stroke="#000" stroke-width="1.0"/>
<polygon points="212.45,507.34 217.05,511.94 212.45,516.54 207.85,511.94" fill="#fff" stroke="#000" stroke-width="1.0"/>
<polygon points="267.35,479.72 271.95,484.32 267.35,488.92 262.75,484.32" fill="#fff" stroke="#000" stroke-width="1.0"/>
<polygon points="294.80,460.29 299.40,464.89 294.80,469.49 290.20,464.89" fill="#fff" stroke="#000" stroke-width="1.0"/>
<polygon points="331.40,499.15 336.00,503.75 331.40,508.35 326.80,503.75" fill="#fff" stroke="#000" stroke-width="1.0"/>
<polygon points="358.85,488.16 363.45,492.76 358.85,497.36 354.25,492.76" fill="#fff" stroke="#000" stroke-width="1.0"/>
<polygon points="102.65,509.80 98.80,507.80 98.80,503.80 102.65,501.80 106.50,503.80 106.50,507.80" fill="#fff" stroke="#000" stroke-width="1.0"/>
<polygon points="139.25,514.91 135.40,512.91 135.40,508.91 139.25,506.91 143.10,508.91 143.10,512.91" fill="#fff" stroke="#000" stroke-width="1.0"/>
<polygon points="166.70,531.28 162.85,529.28 162.85,525.28 166.70,523.28 170.55,525.28 170.55,529.28" fill="#fff" stroke="#000" stroke-width="1.0"/>
<polygon points="194.15,568.61 190.30,566.61 190.30,562.61 194.15,560.61 198.00,562.61 198.00,566.61" fill="#fff" stroke="#000" stroke-width="1.0"/>
<polygon points="212.45,587.53 208.60,585.53 208.60,581.53 212.45,579.53 216.30,581.53 216.30,585.53" fill="#fff" stroke="#000" stroke-width="1.0"/>
<polygon points="267.35,564.01 263.50,562.01 263.50,558.01 267.35,556.01 271.20,558.01 271.20,562.01" fill="#fff" stroke="#000" stroke-width="1.0"/>
<polygon points="294.80,514.40 290.95,512.40 290.95,508.40 294.80,506.40 298.65,508.40 298.65,512.40" fill="#fff" stroke="#000" stroke-width="1.0"/>
<polygon points="331.40,540.48 327.55,538.48 327.55,534.48 331.40,532.48 335.25,534.48 335.25,538.48" fill="#fff" stroke="#000" stroke-width="1.0"/>
<polygon points="358.85,529.49 355.00,527.49 355.00,523.49 358.85,521.49 362.70,523.49 362.70,527.49" fill="#fff" stroke="#000" stroke-width="1.0"/>
<line x1="75.70" y1="681.90" x2="97.20" y2="681.90" stroke="#000" stroke-width="1"/>
<circle cx="86.30" cy="681.90" r="4.3" fill="#000" stroke="#000" stroke-width="1.0"/>
<text x="102.70" y="685.75" font-size="11.1" text-anchor="start" font-weight="400" stroke="#000" stroke-width="0.25">Control, Saline</text>
<line x1="75.70" y1="694.32" x2="97.20" y2="694.32" stroke="#000" stroke-width="1"/>
<polygon points="86.30,699.04 90.38,691.96 82.22,691.96" fill="#000" stroke="#000" stroke-width="1.0"/>
<text x="102.70" y="698.17" font-size="11.1" text-anchor="start" font-weight="400" stroke="#000" stroke-width="0.25">PDX, 1 mg/kg</text>
<line x1="75.70" y1="706.74" x2="97.20" y2="706.74" stroke="#000" stroke-width="1"/>
<rect x="82.86" y="703.30" width="6.88" height="6.88" fill="#000" stroke="#000" stroke-width="1.0"/>
<text x="102.70" y="710.59" font-size="11.1" text-anchor="start" font-weight="400" stroke="#000" stroke-width="0.25">PDX, 2 mg/kg</text>
<line x1="75.70" y1="719.16" x2="97.20" y2="719.16" stroke="#000" stroke-width="1"/>
<polygon points="86.30,714.21 91.24,719.16 86.30,724.11 81.36,719.16" fill="#000" stroke="#000" stroke-width="1.0"/>
<text x="102.70" y="723.01" font-size="11.1" text-anchor="start" font-weight="400" stroke="#000" stroke-width="0.25">MTX, 1 mg/kg</text>
<line x1="75.70" y1="731.58" x2="97.20" y2="731.58" stroke="#000" stroke-width="1"/>
<polygon points="86.30,726.86 90.38,733.94 82.22,733.94" fill="#000" stroke="#000" stroke-width="1.0"/>
<text x="102.70" y="735.43" font-size="11.1" text-anchor="start" font-weight="400" stroke="#000" stroke-width="0.25">MTX, 2 mg/kg</text>
<line x1="75.70" y1="744.00" x2="97.20" y2="744.00" stroke="#000" stroke-width="1"/>
<polygon points="86.30,748.51 82.58,746.26 82.58,741.74 86.30,739.49 90.02,741.74 90.02,746.26" fill="#000" stroke="#000" stroke-width="1.0"/>
<text x="102.70" y="747.85" font-size="11.1" text-anchor="start" font-weight="400" stroke="#000" stroke-width="0.25">Alimta, 150 mg/kg</text>
<text x="183.80" y="707.30" font-size="11.4" text-anchor="start" font-weight="400" stroke="#000" stroke-width="0.25">Solid = NCI-H460</text>
<text x="183.80" y="720.20" font-size="11.4" text-anchor="start" font-weight="400" stroke="#000" stroke-width="0.25">Open = MV522</text>
</g>
</svg>
</body></html>
